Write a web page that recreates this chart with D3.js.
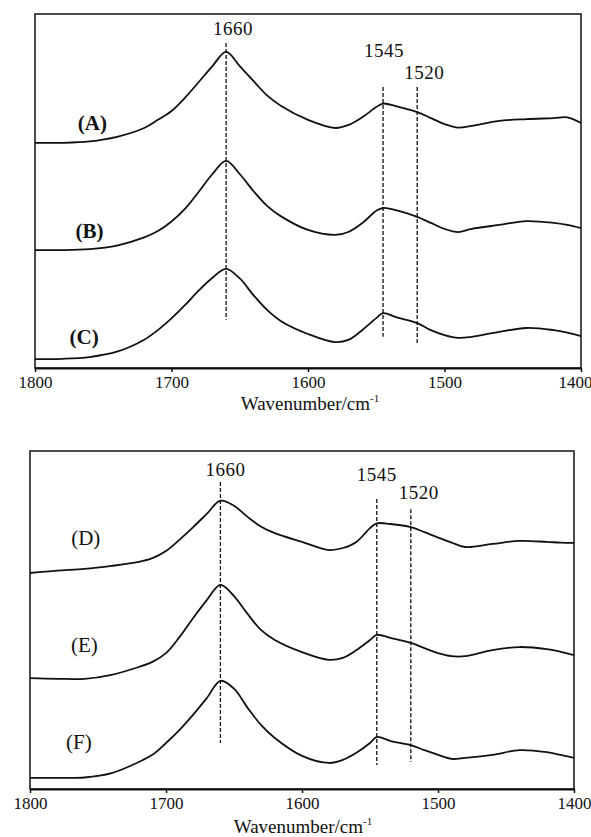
<!DOCTYPE html>
<html>
<head>
<meta charset="utf-8">
<script src="https://cdn.jsdelivr.net/npm/d3@7"></script>
<style>
  html, body { margin: 0; padding: 0; background: #fff; }
  svg { display: block; }
  text { font-family: "Liberation Serif", "DejaVu Serif", serif; fill: #111; }
</style>
</head>
<body>
<svg id="chart" width="591" height="837"></svg>
<script>
// ---------------- DATA ----------------
const wavenumbers = [1800, 1780, 1760, 1740, 1720, 1710, 1700, 1690, 1680, 1670, 1660, 1650, 1640, 1630, 1620,
  1600, 1580, 1570, 1560, 1550, 1545, 1535, 1520, 1510, 1500, 1490, 1480, 1460, 1440, 1420, 1410, 1400];

// absorbance (arbitrary units, stacked with offsets as in the figure)
const seriesA = [63.6, 63.6, 64.0, 65.3, 67.8, 70.1, 72.6, 76.4, 80.8, 85.3, 89.3, 85.3, 81.1, 77.0, 74.1,
  70.1, 67.8, 68.7, 70.9, 73.7, 74.7, 73.9, 72.3, 70.6, 68.9, 67.9, 68.4, 69.8, 70.3, 70.6, 70.8, 69.2];
const seriesB = [33.3, 33.3, 33.6, 34.6, 36.9, 38.7, 41.4, 45.0, 49.8, 54.8, 58.5, 54.8, 50.0, 45.8, 42.9,
  39.0, 37.6, 38.5, 41.0, 44.4, 45.2, 44.5, 42.7, 41.0, 39.3, 38.4, 39.3, 40.4, 41.5, 41.0, 40.4, 39.5];
const seriesC = [2.5, 2.6, 3.1, 4.6, 8.0, 10.7, 14.0, 17.8, 21.9, 25.5, 28.0, 25.3, 20.6, 16.4, 13.3,
  9.6, 7.3, 8.0, 10.8, 14.1, 15.5, 14.3, 12.7, 10.7, 9.3, 8.5, 8.8, 10.2, 11.3, 10.7, 10.0, 9.0];
const seriesD = [63.9, 64.6, 65.1, 66.0, 67.2, 68.3, 70.4, 73.8, 77.5, 81.4, 85.3, 83.8, 80.5, 77.6, 75.7,
  73.1, 70.7, 71.3, 73.1, 77.2, 78.6, 78.4, 77.5, 76.0, 74.4, 72.9, 71.6, 72.5, 73.4, 73.1, 72.9, 72.8];
const seriesE = [32.8, 32.6, 32.6, 33.8, 36.1, 37.6, 40.2, 45.0, 50.6, 55.9, 60.4, 57.1, 51.8, 47.0, 44.1,
  40.5, 38.2, 38.8, 41.1, 44.1, 45.6, 44.7, 43.2, 41.7, 40.2, 39.3, 39.3, 41.1, 42.0, 41.4, 40.6, 39.6];
const seriesF = [3.3, 3.3, 3.4, 4.7, 8.0, 10.1, 13.6, 17.5, 22.0, 26.9, 32.0, 29.7, 24.0, 18.9, 15.1,
  9.8, 7.7, 8.6, 10.7, 13.6, 15.4, 14.2, 13.0, 11.5, 10.1, 8.9, 9.2, 10.1, 11.5, 10.9, 10.1, 9.2];

const seriesNames = ["(A)", "(B)", "(C)", "(D)", "(E)", "(F)"];
const xTicks = [1800, 1700, 1600, 1500, 1400];
const xTickLabels = ["1800", "1700", "1600", "1500", "1400"];
const markerWavenumbers = [1660, 1545, 1520];
const markerLabels = ["1660", "1545", "1520"];
// vertical extent of dashed marker lines (in absorbance units) per panel
const markerTopTop = [91.8, 79.4, 79.4];
const markerBottomTop = [13.6, 8.8, 6.5];
const markerTopBottom = [90.8, 85.8, 82.8];
const markerBottomBottom = [13.6, 7.1, 8.0];
const axisTitle = "Wavenumber/cm";
const axisTitleSup = "-1";

// ---------------- LAYOUT ----------------
const panels = [
  {
    x0: 35, x1: 581, yTop: 14, yBottom: 368,
    series: [seriesA, seriesB, seriesC], names: seriesNames.slice(0, 3),
    nameWn: [1758, 1760, 1764], nameVal: [69.2, 38.7, 8.8], nameBold: true,
    mTop: markerTopTop, mBot: markerBottomTop,
    mLabelVal: [95.8, 89.8, 83.6], mLabelDx: [7, 1, 7],
    titleX: 310, titleY: 410, lastTickDx: -6
  },
  {
    x0: 30, x1: 574, yTop: 451, yBottom: 789,
    series: [seriesD, seriesE, seriesF], names: seriesNames.slice(3, 6),
    nameWn: [1759, 1760, 1764], nameVal: [74.3, 42.6, 13.9], nameBold: false,
    mTop: markerTopBottom, mBot: markerBottomBottom,
    mLabelVal: [94.4, 92.9, 87.6], mLabelDx: [5, 0, 8],
    titleX: 303, titleY: 833, lastTickDx: 0
  }
];

const svg = d3.select("#chart");

panels.forEach(p => {
  const x = d3.scaleLinear().domain([1800, 1400]).range([p.x0, p.x1]);
  const y = d3.scaleLinear().domain([0, 100]).range([p.yBottom, p.yTop]);
  const g = svg.append("g");

  // frame (top, left, right)
  g.append("rect")
    .attr("x", p.x0).attr("y", p.yTop)
    .attr("width", p.x1 - p.x0).attr("height", p.yBottom - p.yTop)
    .attr("fill", "none").attr("stroke", "#111").attr("stroke-width", 1.5);

  // x axis
  const axis = d3.axisBottom(x)
    .tickValues(xTicks)
    .tickFormat((d, i) => xTickLabels[i])
    .tickSizeInner(4).tickSizeOuter(0).tickPadding(4);
  const ax = g.append("g")
    .attr("transform", `translate(0,${p.yBottom})`)
    .call(axis);
  ax.select(".domain").attr("stroke", "#111").attr("stroke-width", 2);
  ax.selectAll(".tick line").attr("stroke", "#111").attr("stroke-width", 1.5);
  ax.selectAll(".tick text")
    .style("font-family", '"Liberation Serif", serif')
    .style("font-size", "17px").attr("fill", "#111")
    .attr("dx", (d, i) => i === xTicks.length - 1 ? p.lastTickDx : 0);

  // axis title
  const t = g.append("text")
    .attr("x", p.titleX).attr("y", p.titleY)
    .attr("text-anchor", "middle")
    .style("font-size", "19px");
  t.append("tspan").text(axisTitle);
  t.append("tspan").text(axisTitleSup)
    .attr("dy", -8).style("font-size", "11px");

  // spectra
  const line = d3.line()
    .x((d, i) => x(wavenumbers[i]))
    .y(d => y(d))
    .curve(d3.curveCatmullRom.alpha(0.5));
  p.series.forEach(s => {
    g.append("path")
      .datum(s)
      .attr("d", line)
      .attr("fill", "none")
      .attr("stroke", "#111")
      .attr("stroke-width", 1.8)
      .attr("stroke-linejoin", "round");
  });

  // series names
  p.names.forEach((n, i) => {
    g.append("text")
      .attr("x", x(p.nameWn[i])).attr("y", y(p.nameVal[i]))
      .attr("text-anchor", "middle")
      .attr("dominant-baseline", "central")
      .style("font-size", "21px")
      .style("font-weight", p.nameBold ? "bold" : "normal")
      .text(n);
  });

  // dashed marker lines
  markerWavenumbers.forEach((w, i) => {
    g.append("line")
      .attr("x1", x(w)).attr("x2", x(w))
      .attr("y1", y(p.mTop[i])).attr("y2", y(p.mBot[i]))
      .attr("stroke", "#111").attr("stroke-width", 1.3)
      .attr("stroke-dasharray", "4,2");
    g.append("text")
      .attr("x", x(w) + p.mLabelDx[i]).attr("y", y(p.mLabelVal[i]))
      .attr("text-anchor", "middle")
      .attr("dominant-baseline", "central")
      .style("font-size", "19px")
      .style("letter-spacing", "0.5px")
      .text(markerLabels[i]);
  });
});
</script>
</body>
</html>
